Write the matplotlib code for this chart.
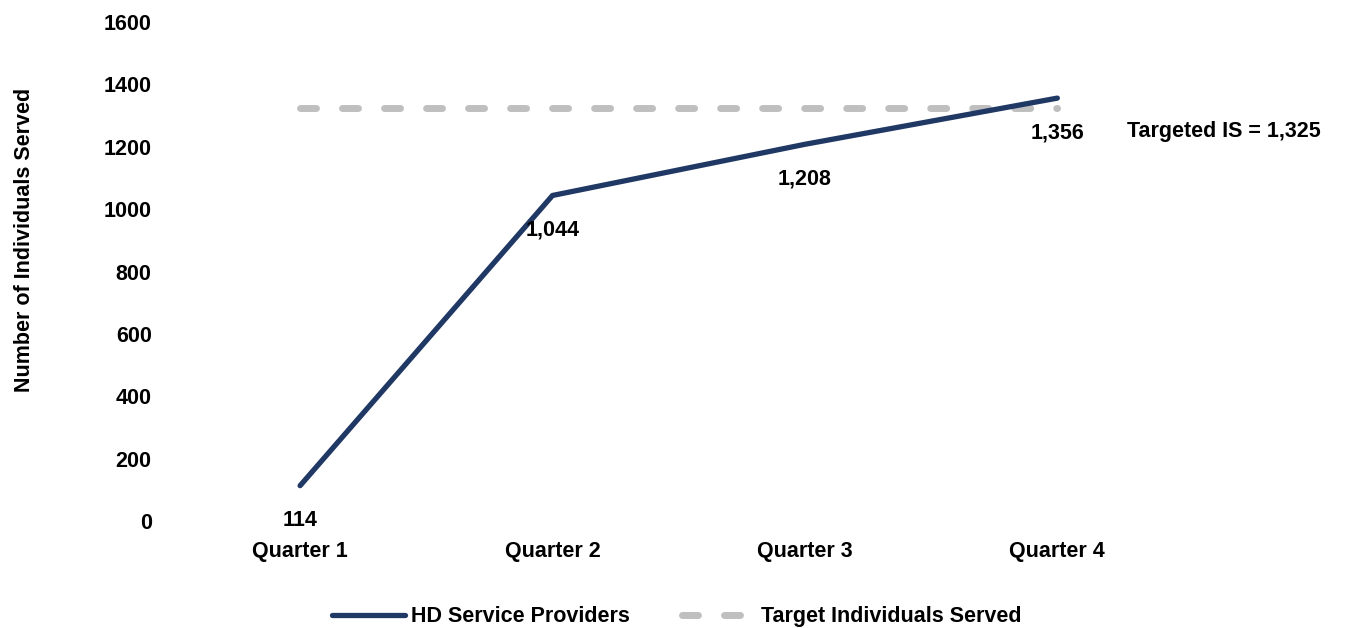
import matplotlib
matplotlib.use("Agg")
import matplotlib.pyplot as plt

quarters = ["Quarter 1", "Quarter 2", "Quarter 3", "Quarter 4"]
served = [114, 1044, 1208, 1356]
target = [1325, 1325, 1325, 1325]
yticks = [0, 200, 400, 600, 800, 1000, 1200, 1400, 1600]

plt.rcParams['font.family'] = ['Liberation Sans', 'DejaVu Sans']
plt.rcParams['font.weight'] = 'bold'

navy = "#203864"
grey = "#BFBFBF"
fs = 15.5

fig = plt.figure(figsize=(13.48, 6.28), dpi=100)
ax = fig.add_axes([0.129, 0.170, 0.749, 0.795])

x = list(range(len(quarters)))
ax.plot(x, target, color=grey, lw=5, linestyle=(0, (2.3, 3.75)),
        dash_capstyle='round', label="Target Individuals Served", zorder=2)
ax.plot(x, served, color=navy, lw=3.8, solid_capstyle='round',
        label="HD Service Providers", zorder=3)

for xi, v in zip(x, served):
    ax.annotate(f"{v:,}", (xi, v), xytext=(0, -25), textcoords="offset points",
                ha="center", va="center", fontsize=fs, fontweight="bold")

ax.annotate("Targeted IS = 1,325", (x[-1], served[-1]), xytext=(50, -24),
            textcoords="offset points", ha="left", va="center",
            fontsize=fs, fontweight="bold")

ax.set_xlim(-0.5, 3.5)
ax.set_ylim(0, 1600)
ax.set_yticks(yticks)
ax.set_xticks(x)
ax.set_xticklabels(quarters, fontsize=fs, fontweight="bold")
ax.tick_params(axis='y', labelsize=fs, length=0, pad=16)
ax.tick_params(axis='x', length=0, pad=14)
for lbl in ax.get_yticklabels():
    lbl.set_fontweight("bold")
for s in ax.spines.values():
    s.set_visible(False)

ax.set_ylabel("Number of Individuals Served", fontsize=fs, fontweight="bold")
ax.yaxis.set_label_coords(-0.138, 0.563)

handles, labels = ax.get_legend_handles_labels()
fig.legend(handles[::-1], labels[::-1], loc="lower center", ncol=2,
           bbox_to_anchor=(0.502, -0.03), frameon=False,
           prop={'size': fs, 'weight': 'bold'},
           handlelength=3.4, columnspacing=2.4, handletextpad=0.3)

fig.savefig("out.png", dpi=100)
